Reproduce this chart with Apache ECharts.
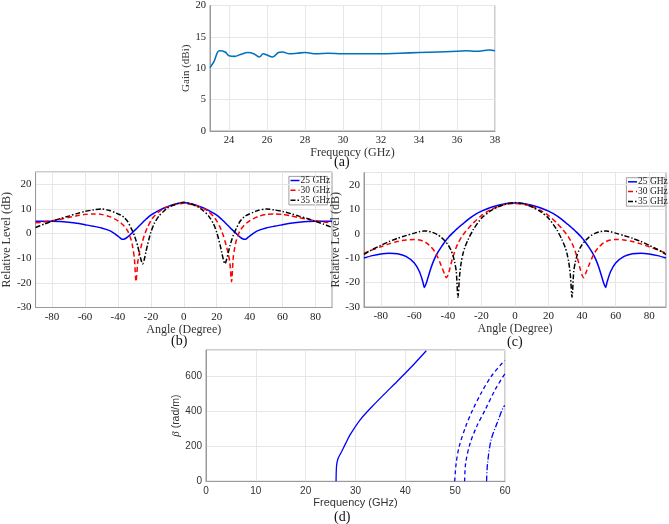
<!DOCTYPE html>
<html><head><meta charset="utf-8">
<script src="https://cdn.jsdelivr.net/npm/echarts@6/dist/echarts.min.js"></script>
<style>html,body{margin:0;padding:0;background:#fff}#c{width:669px;height:524px}</style>
</head><body><div id="c"></div>
<script>
// ---- Panel (a): gain vs frequency ----
const freqA = [23,23.2,23.5,23.8,24,24.3,24.6,25,25.3,25.6,25.8,26,26.3,26.6,26.8,27.2,27.6,28,28.6,29.2,30,31,32,33,34,35,36,36.5,37,37.7,38];
const gainA = [10.1,11.0,12.8,12.6,12.0,11.9,12.2,12.5,12.3,11.8,12.3,12.1,11.8,12.5,12.6,12.3,12.4,12.5,12.3,12.4,12.3,12.3,12.3,12.4,12.5,12.6,12.7,12.8,12.7,12.9,12.8];

// ---- Panel (b) ----
const angB = [-90,-85,-80,-75,-70,-65,-60,-55,-50,-45,-42,-40,-38,-37,-36,-34,-32,-31,-30,-29,-28,-27,-26,-25,-24,-23,-22,-20,-18,-15,-12,-10,-5,0,5,10,12,15,18,20,22,23,24,25,26,27,28,29,30,31,32,34,36,37,38,40,42,45,50,55,60,65,70,75,80,85,90];
const b25 = [5.0,5.0,5.0,4.9,4.6,4.2,3.6,3.0,2.3,1.2,0.0,-1.0,-2.1,-2.3,-2.2,-1.3,-0.1,0.5,1.2,1.8,2.5,3.2,3.8,4.5,5.2,5.8,6.4,7.5,8.3,9.4,10.4,10.9,12.0,12.5,12.0,10.9,10.4,9.4,8.3,7.5,6.4,5.8,5.2,4.5,3.8,3.2,2.5,1.8,1.2,0.5,-0.1,-1.3,-2.2,-2.3,-2.1,-1.0,0.0,1.2,2.3,3.0,3.6,4.2,4.6,4.9,5.0,5.0,5.0];
const b30 = [4.4,4.7,5.2,5.8,6.5,7.2,7.8,8.0,7.8,6.9,6.0,5.2,4.2,3.6,2.9,1.0,-2.5,-5.5,-10.0,-19.5,-12.0,-8.0,-5.5,-3.0,-0.8,1.0,2.6,5.2,7.0,8.9,10.2,10.8,11.8,12.3,11.8,10.8,10.2,8.9,7.0,5.2,2.6,1.0,-0.8,-3.0,-5.5,-8.0,-12.0,-19.5,-10.0,-5.5,-2.5,1.0,2.9,3.6,4.2,5.2,6.0,6.9,7.8,8.0,7.8,7.2,6.5,5.8,5.2,4.7,4.4];
const b35 = [2.5,3.8,5.0,6.1,7.1,8.1,9.0,9.6,10.0,9.4,8.6,8.0,7.4,7.0,6.4,4.8,2.2,0.8,-0.8,-2.8,-5.0,-7.8,-10.5,-12.3,-10.5,-7.5,-4.5,0.5,4.0,7.2,9.2,10.3,11.9,12.7,11.9,10.3,9.2,7.2,4.0,0.5,-4.5,-7.5,-10.5,-12.3,-10.5,-7.8,-5.0,-2.8,-0.8,0.8,2.2,4.8,6.4,7.0,7.4,8.0,8.6,9.4,10.0,9.6,9.0,8.1,7.1,6.1,5.0,3.8,2.5];

// ---- Panel (c) ----
const angC = [-90,-85,-80,-75,-70,-65,-60,-57,-55,-54,-53,-52,-50,-48,-46,-44,-42,-41,-40,-39,-38,-37,-36,-35,-34,-33,-32,-31,-30,-28,-25,-20,-15,-10,-5,0,5,10,15,20,25,28,30,31,32,33,34,35,36,37,38,39,40,41,42,44,46,48,50,52,53,54,55,57,60,65,70,75,80,85,90];
const c25 = [-10.0,-9.0,-8.3,-8.0,-8.2,-9.3,-12.0,-15.5,-19.5,-22.0,-20.5,-18.3,-13.8,-10.3,-7.7,-5.5,-3.5,-2.6,-1.8,-1.0,-0.3,0.4,1.0,1.7,2.3,2.9,3.5,4.0,4.6,5.7,7.3,9.2,10.6,11.6,12.3,12.5,12.3,11.6,10.6,9.2,7.3,5.7,4.6,4.0,3.5,2.9,2.3,1.7,1.0,0.4,-0.3,-1.0,-1.8,-2.6,-3.5,-5.5,-7.7,-10.3,-13.8,-18.3,-20.5,-22.0,-19.5,-15.5,-12.0,-9.3,-8.2,-8.0,-8.3,-9.0,-10.0];
const c30 = [-8.0,-6.6,-5.4,-4.2,-3.2,-2.6,-2.4,-2.6,-3.0,-3.3,-3.7,-4.2,-5.5,-7.2,-9.8,-13.0,-16.5,-18.0,-17.0,-14.8,-12.0,-9.6,-7.5,-5.6,-4.0,-2.7,-1.5,-0.5,0.4,2.0,4.3,7.4,9.6,11.1,12.0,12.3,12.0,11.1,9.6,7.4,4.3,2.0,0.4,-0.5,-1.5,-2.7,-4.0,-5.6,-7.5,-9.6,-12.0,-14.8,-17.0,-18.0,-16.5,-13.0,-9.8,-7.2,-5.5,-4.2,-3.7,-3.3,-3.0,-2.6,-2.4,-2.6,-3.2,-4.2,-5.4,-6.6,-8.0];
const c35 = [-8.5,-6.5,-4.8,-3.2,-1.9,-0.8,0.2,0.8,1.0,1.1,1.1,1.0,0.7,0.2,-0.5,-1.5,-2.8,-3.6,-4.5,-5.6,-7.0,-8.9,-11.5,-15.5,-26.0,-17.0,-11.5,-8.2,-5.8,-2.5,1.5,6.3,9.1,11.0,12.2,12.7,12.2,11.0,9.1,6.3,1.5,-2.5,-5.8,-8.2,-11.5,-17.0,-26.0,-15.5,-11.5,-8.9,-7.0,-5.6,-4.5,-3.6,-2.8,-1.5,-0.5,0.2,0.7,1.0,1.1,1.1,1.0,0.8,0.2,-0.8,-1.9,-3.2,-4.8,-6.5,-8.5];

// ---- Panel (d): dispersion ----
const fD1 = [26.1,26.2,26.5,27.2,28.0,28.9,30.9,33.3,35.6,38.3,41.0,44.2];
const bD1 = [0,88,130,169,215,265,350,426,493,569,647,746];
const fD2 = [49.9,50.2,50.8,52.1,53.5,55.2,57.2,59.7,60];
const bD2 = [0,103,198,312,407,503,598,684,690];
const fD3 = [51.9,52.1,53.0,54.3,56.0,58.0,59.8,60];
const bD3 = [0,103,217,312,407,522,607,615];
const fD4 = [56.3,56.5,57.2,58.4,59.7,60];
const bD4 = [0,103,236,331,426,432];

const legendNames = ['25 GHz','30 GHz','35 GHz'];

function pairs(xs, ys){ return xs.map((x,i)=>[x, ys[i]]); }

const SERIF = 'Liberation Serif, Times New Roman, serif';
const SANS = 'Liberation Sans, Arial, sans-serif';
const GRID = '#e6e6e6';
const BOX = '#9a9a9a';
const COLS = ['#0000ff','#ff0000','#000000'];
const DASH = [null,[5,3],[5,2,1.5,2]];

function serifAxis(o){
  return Object.assign({
    type:'value',
    axisLine:{show:true,onZero:false,lineStyle:{color:BOX,width:1}},
    axisTick:{show:false},
    axisLabel:{color:'#222',fontFamily:SERIF,fontSize:11,margin:4},
    nameLocation:'middle',
    nameTextStyle:{color:'#333',fontFamily:SERIF,fontSize:12},
  }, o);
}

function legendBox(x, y, w, h, rowY){
  const els = [{type:'rect',left:x,top:y,shape:{width:w,height:h},style:{fill:'#fff',stroke:'#888',lineWidth:0.8}}];
  legendNames.forEach((n,i)=>{
    const cy = y + rowY[i];
    els.push({type:'line',shape:{x1:x+2,y1:cy,x2:x+11,y2:cy},style:{stroke:COLS[i],lineWidth:1.5,lineDash:DASH[i]}});
    els.push({type:'text',x:x+12,y:cy,style:{text:n,font:'9.5px '+SERIF,fill:'#222',textVerticalAlign:'middle',verticalAlign:'middle'}});
  });
  return els;
}

const chart = echarts.init(document.getElementById('c'), null, {renderer:'canvas'});
const option = {
  animation:false,
  backgroundColor:'#fff',
  grid:[
    {left:210, top:3, width:285, height:128, show:true, borderColor:BOX, borderWidth:1},
    {left:26, top:172, width:306, height:135.5, show:true, borderColor:BOX, borderWidth:1},
    {left:364, top:172.5, width:304, height:134.5, show:true, borderColor:BOX, borderWidth:1},
    {left:206, top:350, width:299, height:131.3, show:true, borderColor:BOX, borderWidth:1}
  ],
  xAxis:[
    serifAxis({gridIndex:0,min:23,max:38,interval:1,name:'Frequency (GHz)',nameGap:12,
      axisLabel:{color:'#222',fontFamily:SERIF,fontSize:10.5,margin:4,formatter:v=>(v%2===0?v:'')},
      splitLine:{show:true,lineStyle:{color:['rgba(0,0,0,0)',GRID]}}}),
    serifAxis({gridIndex:1,min:-90,max:90,interval:10,name:'Angle (Degree)',nameGap:15,
      axisLabel:{color:'#222',fontFamily:SERIF,fontSize:11,margin:4,formatter:v=>(v%20===0?v:'')},
      splitLine:{show:true,lineStyle:{color:['rgba(0,0,0,0)',GRID]}}}),
    serifAxis({gridIndex:2,min:-90,max:90,interval:10,name:'Angle (Degree)',nameGap:16,
      axisLabel:{color:'#222',fontFamily:SERIF,fontSize:11,margin:4,formatter:v=>(v%20===0?v:'')},
      splitLine:{show:true,lineStyle:{color:['rgba(0,0,0,0)',GRID]}}}),
    {type:'value',gridIndex:3,min:0,max:60,interval:10,name:'Frequency (GHz)',nameLocation:'middle',nameGap:16,
      nameTextStyle:{color:'#333',fontFamily:SANS,fontSize:11},
      axisLine:{show:true,onZero:false,lineStyle:{color:BOX}},axisTick:{show:false},
      axisLabel:{color:'#333',fontFamily:SANS,fontSize:10,margin:5},
      splitLine:{show:true,lineStyle:{color:GRID}}}
  ],
  yAxis:[
    serifAxis({gridIndex:0,min:0,max:20,interval:5,name:'Gain (dBi)',nameGap:14,
      nameTextStyle:{color:'#333',fontFamily:SERIF,fontSize:11},
      axisLabel:{color:'#222',fontFamily:SERIF,fontSize:10.5,margin:4},
      splitLine:{show:true,lineStyle:{color:GRID}}}),
    serifAxis({gridIndex:1,min:-30,max:25,interval:10,name:'Relative Level (dB)',nameGap:16,
      axisLabel:{color:'#222',fontFamily:SERIF,fontSize:11,margin:4,showMaxLabel:false},
      splitLine:{show:true,lineStyle:{color:GRID}}}),
    serifAxis({gridIndex:2,min:-30,max:25,interval:10,name:'Relative Level (dB)',nameGap:17,
      axisLabel:{color:'#222',fontFamily:SERIF,fontSize:11,margin:4,showMaxLabel:false},
      splitLine:{show:true,lineStyle:{color:GRID}}}),
    {type:'value',gridIndex:3,min:0,max:750,interval:200,name:'{i|β} (rad/m)',nameLocation:'middle',nameGap:19,
      nameTextStyle:{color:'#333',fontFamily:SANS,fontSize:10.5,rich:{i:{fontStyle:'italic',fontFamily:SERIF,fontSize:11,color:'#333'}}},
      axisLine:{show:true,onZero:false,lineStyle:{color:BOX}},axisTick:{show:false},
      axisLabel:{color:'#333',fontFamily:SANS,fontSize:10,margin:4,showMaxLabel:false},
      splitLine:{show:true,lineStyle:{color:GRID}}}
  ],
  graphic:[
    {type:'text',left:334,top:155,style:{text:'(a)',font:'14px '+SERIF,fill:'#111'}},
    {type:'text',left:171,top:334,style:{text:'(b)',font:'14px '+SERIF,fill:'#111'}},
    {type:'text',left:507,top:335,style:{text:'(c)',font:'14px '+SERIF,fill:'#111'}},
    {type:'text',left:334,top:510,style:{text:'(d)',font:'14px '+SERIF,fill:'#111'}}
  ].concat(legendBox(288.5,176,38.5,28.5,[4.5,14.3,24.2]), legendBox(626,177.3,38.5,28.5,[4.5,14.3,24.2])),
  series:[
    {type:'line',xAxisIndex:0,yAxisIndex:0,data:pairs(freqA,gainA),symbol:'none',smooth:0.4,
     lineStyle:{color:'#0072BD',width:1.6},itemStyle:{color:'#0072BD'}},
    {name:'25 GHz',type:'line',xAxisIndex:1,yAxisIndex:1,data:pairs(angB,b25),symbol:'none',smooth:0.25,
     lineStyle:{color:COLS[0],width:1.5}},
    {name:'30 GHz',type:'line',xAxisIndex:1,yAxisIndex:1,data:pairs(angB,b30),symbol:'none',smooth:0.25,
     lineStyle:{color:COLS[1],width:1.5,type:DASH[1]}},
    {name:'35 GHz',type:'line',xAxisIndex:1,yAxisIndex:1,data:pairs(angB,b35),symbol:'none',smooth:0.25,
     lineStyle:{color:COLS[2],width:1.5,type:DASH[2]}},
    {name:'25 GHz',type:'line',xAxisIndex:2,yAxisIndex:2,data:pairs(angC,c25),symbol:'none',smooth:0.25,
     lineStyle:{color:COLS[0],width:1.5}},
    {name:'30 GHz',type:'line',xAxisIndex:2,yAxisIndex:2,data:pairs(angC,c30),symbol:'none',smooth:0.25,
     lineStyle:{color:COLS[1],width:1.5,type:DASH[1]}},
    {name:'35 GHz',type:'line',xAxisIndex:2,yAxisIndex:2,data:pairs(angC,c35),symbol:'none',smooth:0.25,
     lineStyle:{color:COLS[2],width:1.5,type:DASH[2]}},
    {type:'line',xAxisIndex:3,yAxisIndex:3,data:pairs(fD1,bD1),symbol:'none',smooth:0.3,clip:true,
     lineStyle:{color:'#0000ff',width:1.3}},
    {type:'line',xAxisIndex:3,yAxisIndex:3,data:pairs(fD2,bD2),symbol:'none',smooth:0.3,clip:true,
     lineStyle:{color:'#0000ff',width:1.3,type:[4,3]}},
    {type:'line',xAxisIndex:3,yAxisIndex:3,data:pairs(fD3,bD3),symbol:'none',smooth:0.3,clip:true,
     lineStyle:{color:'#0000ff',width:1.3,type:[4,3]}},
    {type:'line',xAxisIndex:3,yAxisIndex:3,data:pairs(fD4,bD4),symbol:'none',smooth:0.3,clip:true,
     lineStyle:{color:'#0000ff',width:1.3,type:[6,2,1,2]}}
  ]
};
chart.setOption(option);
</script></body></html>
